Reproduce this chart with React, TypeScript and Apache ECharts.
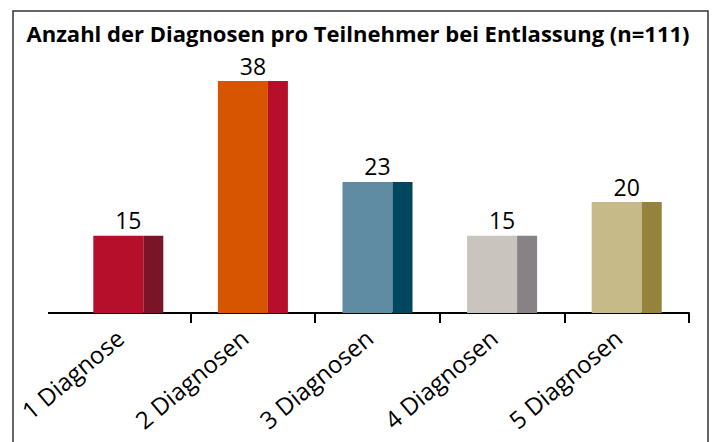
import React, { useEffect, useRef } from "react";
import * as echarts from "echarts";

const categories = ["1 Diagnose", "2 Diagnosen", "3 Diagnosen", "4 Diagnosen", "5 Diagnosen"];
const values = [15, 38, 23, 15, 20];
const frontColors = ["#B50F2B", "#D75500", "#5F8CA2", "#C9C4BE", "#C6BB88"];
const sideColors = ["#7A1528", "#B50F2B", "#00475E", "#888287", "#96833B"];
const titleText = "Anzahl der Diagnosen pro Teilnehmer bei Entlassung (n=111)";

const FONT = "'Open Sans', 'Noto Sans', sans-serif";

export default function App() {
  const ref = useRef<HTMLDivElement>(null);
  useEffect(() => {
    if (!ref.current) return;
    const chart = echarts.init(ref.current, null, { renderer: "svg" });
    chart.setOption({
      animation: false,
      backgroundColor: "#ffffff",
      title: {
        text: titleText,
        left: "center",
        top: 17,
        textStyle: { fontFamily: FONT, fontSize: 22, fontWeight: "bold", color: "#000" },
      },
      grid: { left: 66, right: 27, top: 67.6, bottom: 129, containLabel: false },
      xAxis: {
        type: "category",
        data: categories,
        axisLine: { lineStyle: { color: "#000", width: 2 } },
        axisTick: {
          show: true,
          length: 10,
          lineStyle: { color: "#000", width: 2 },
          interval: (index: number) => index !== 0,
        },
        axisLabel: {
          rotate: 40,
          margin: 14,
          padding: [0, 11, 0, 0],
          fontFamily: FONT,
          fontSize: 24,
          color: "#000",
          interval: 0,
        },
      },
      yAxis: {
        type: "value",
        min: 3.5,
        max: 40,
        show: false,
        splitLine: { show: false },
      },
      series: [
        {
          type: "bar",
          data: values.map((v, i) => ({ value: v, itemStyle: { color: frontColors[i] } })),
          barWidth: 50,
          barGap: "0%",
          label: {
            show: true,
            position: "top",
            offset: [10, 1],
            fontFamily: FONT,
            fontSize: 23,
            color: "#000",
          },
        },
        {
          type: "bar",
          data: values.map((v, i) => ({ value: v, itemStyle: { color: sideColors[i] } })),
          barWidth: 20,
          barGap: "0%",
        },
      ],
      graphic: [
        {
          type: "rect",
          shape: { x: 13, y: 11, width: 695, height: 450 },
          style: { fill: "none", stroke: "#333", lineWidth: 1.5 },
          z: 100,
        },
        {
          type: "line",
          shape: { x1: 48, y1: 313, x2: 67, y2: 313 },
          style: { stroke: "#000", lineWidth: 2 },
          z: 100,
        },
      ],
    });
    return () => chart.dispose();
  }, []);
  return (
    <div
      ref={ref}
      style={{ position: "fixed", left: 0, top: 0, width: 716, height: 442, background: "#fff" }}
    />
  );
}
